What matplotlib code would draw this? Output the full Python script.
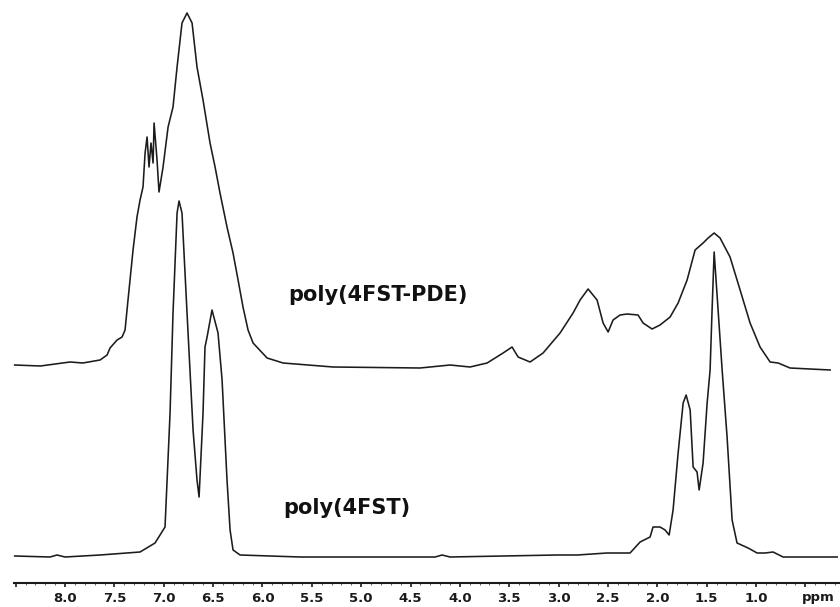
import matplotlib
matplotlib.use("Agg")
import matplotlib.pyplot as plt
from matplotlib.ticker import FixedLocator, FixedFormatter, MultipleLocator

# ---- data (ppm, intensity above own baseline) ----
pde_ppm = [8.51, 8.25, 7.95, 7.82, 7.645, 7.574, 7.544, 7.473, 7.422, 7.392,
           7.362, 7.311, 7.271, 7.240, 7.210, 7.189, 7.169, 7.149, 7.129, 7.108,
           7.098, 7.068, 7.048, 7.007, 6.956, 6.906, 6.865, 6.815, 6.764, 6.713,
           6.663, 6.602, 6.531, 6.480, 6.430, 6.359, 6.298, 6.247, 6.197, 6.146,
           6.095, 5.953, 5.791, 5.285, 4.403, 4.099, 3.897, 3.724, 3.562, 3.471,
           3.410, 3.289, 3.157, 2.985, 2.853, 2.782, 2.701, 2.610, 2.549, 2.498,
           2.448, 2.377, 2.306, 2.195, 2.144, 2.053, 1.972, 1.870, 1.789, 1.698,
           1.617, 1.536, 1.485, 1.424, 1.364, 1.263, 1.161, 1.060, 0.959, 0.857,
           0.776, 0.655, 0.249]
pde_int = [1, 0, 4, 3, 6, 11, 18, 26, 29, 36,
           66, 116, 149, 166, 179, 213, 229, 199, 223, 203,
           243, 206, 174, 199, 239, 259, 299, 343, 353, 343,
           299, 266, 223, 199, 173, 139, 113, 86, 59, 36,
           23, 8, 3, -1, -2, 1, -1, 3, 13, 19,
           9, 4, 13, 33, 53, 66, 77, 66, 43, 34,
           46, 51, 52, 51, 43, 37, 41, 49, 63, 86,
           116, 123, 128, 133, 128, 109, 76, 43, 19, 4,
           3, -2, -4]

fst_ppm = [8.51, 8.152, 8.081, 8.0, 7.645, 7.240, 7.088, 6.987, 6.936, 6.906,
           6.865, 6.845, 6.815, 6.764, 6.703, 6.663, 6.642, 6.602, 6.582, 6.561,
           6.511, 6.450, 6.409, 6.359, 6.328, 6.298, 6.227, 5.619, 4.25, 4.18,
           4.10, 3.02, 2.81, 2.509, 2.276, 2.174, 2.073, 2.043, 1.972, 1.921,
           1.880, 1.840, 1.789, 1.738, 1.708, 1.667, 1.637, 1.597, 1.576, 1.536,
           1.495, 1.465, 1.445, 1.424, 1.384, 1.343, 1.293, 1.242, 1.192, 1.080,
           0.989, 0.908, 0.827, 0.726, 0.178]
fst_int = [1, 0, 2, 0, 2, 5, 14, 30, 144, 244,
           344, 356, 344, 244, 127, 77, 60, 144, 210, 220,
           247, 224, 177, 77, 27, 7, 2, 0, 0, 2,
           0, 2, 2, 4, 4, 15, 20, 30, 30, 27,
           22, 47, 104, 154, 162, 147, 90, 85, 67, 94,
           154, 187, 247, 305, 247, 187, 120, 37, 14, 9,
           4, 4, 5, 0, 0]

offsets = {"poly(4FST-PDE)": 218, "poly(4FST)": 27}

tick_values = [8.5, 8.0, 7.5, 7.0, 6.5, 6.0, 5.5, 5.0, 4.5, 4.0, 3.5, 3.0, 2.5,
               2.0, 1.5, 1.0, 0.5]
tick_labels = ["", "8.0", "7.5", "7.0", "6.5", "6.0", "5.5", "5.0", "4.5", "4.0",
               "3.5", "3.0", "2.5", "2.0", "1.5", "1.0", ""]

# ---- figure ----
W, H = 840, 607
fig = plt.figure(figsize=(W / 100, H / 100), dpi=100)
ax = fig.add_axes([14 / W, 24 / H, 1 - 14 / W, 583 / H])
ax.set_xlim(8.517, 0.149)
ax.set_ylim(1, 584)

line_kw = dict(color="#1c1c1c", lw=1.15, solid_joinstyle="round", clip_on=False)
ax.plot(pde_ppm, [v + offsets["poly(4FST-PDE)"] for v in pde_int], **line_kw)
ax.plot(fst_ppm, [v + offsets["poly(4FST)"] for v in fst_int], **line_kw)

txt_kw = dict(family="DejaVu Sans", fontweight="bold", fontsize=15,
              color="#111111", ha="left", va="baseline")
ax.text(5.741, 283, "poly(4FST-PDE)", **txt_kw)
ax.text(5.791, 70, "poly(4FST)", **txt_kw)

for s in ["top", "left", "right"]:
    ax.spines[s].set_visible(False)
ax.spines["bottom"].set_linewidth(1.5)
ax.spines["bottom"].set_color("#1a1a1a")
ax.set_yticks([])
ax.xaxis.set_major_locator(FixedLocator(tick_values))
ax.xaxis.set_major_formatter(FixedFormatter(tick_labels))
ax.xaxis.set_minor_locator(MultipleLocator(0.1))
ax.tick_params(axis="x", which="major", direction="out", length=3, width=1.2,
               pad=3.5, labelsize=9.5, colors="#1a1a1a")
ax.tick_params(axis="x", which="minor", direction="out", length=1.5, width=0.7,
               colors="#666666")
for lab in ax.get_xticklabels():
    lab.set_fontweight("bold")
    lab.set_family("DejaVu Sans")

ax.text(0.371, -14, "ppm", fontsize=9.5, fontweight="bold", family="DejaVu Sans",
        ha="center", va="center", color="#1a1a1a", clip_on=False)

fig.savefig("out.png", dpi=100)
